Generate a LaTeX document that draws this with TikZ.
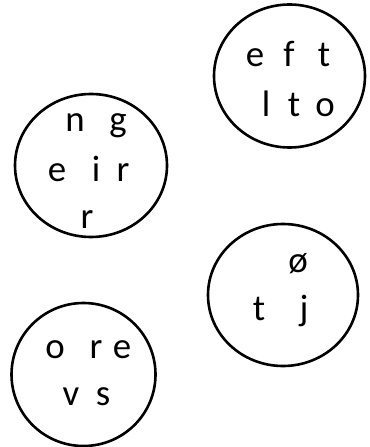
\documentclass[tikz,border=0pt]{standalone}
\usepackage{fontspec}
\setmainfont{Carlito}
\begin{document}
\begin{tikzpicture}[x=1bp,y=-1bp,
  ring/.style={draw=black,line width=2.6bp},
  letter/.style={anchor=base,inner sep=0pt,font=\fontsize{37}{40}\selectfont}]
\useasboundingbox (0,0) rectangle (369,447);
% circles
\draw[ring] (289.5,76) ellipse [x radius=75.5, y radius=71.5];
\draw[ring] (91,165.5) ellipse [x radius=76, y radius=71.5];
\draw[ring] (283,295) ellipse [x radius=75, y radius=71];
\draw[ring] (83.5,374.5) ellipse [x radius=72, y radius=71.5];
% circle 1
\node[letter] (a1) at (255,67) {e};
\node[letter] (a2) at (289,67) {f};
\node[letter] (a3) at (324,67) {t};
\node[letter] (a4) at (266,117) {l};
\node[letter] (a5) at (294,117) {t};
\node[letter] (a6) at (325,117) {o};
% circle 2
\node[letter] (b1) at (75,132) {n};
\node[letter] (b2) at (118,132) {g};
\node[letter] (b3) at (57,182) {e};
\node[letter] (b4) at (96,182) {i};
\node[letter] (b5) at (123,182) {r};
\node[letter] (b6) at (87,228) {r};
% circle 3
\node[letter] (c1) at (298,272) {ø};
\node[letter] (c2) at (259,320) {t};
\node[letter] (c3) at (304,320) {j};
% circle 4
\node[letter] (d1) at (55,358) {o};
\node[letter] (d2) at (96,358) {r};
\node[letter] (d3) at (122,358) {e};
\node[letter] (d4) at (71,405) {v};
\node[letter] (d5) at (103,405) {s};
\end{tikzpicture}
\end{document}
